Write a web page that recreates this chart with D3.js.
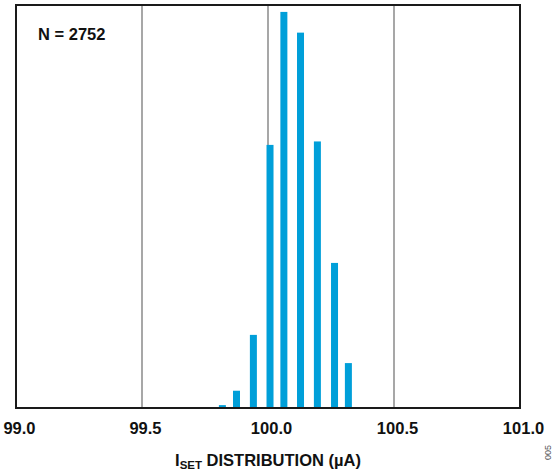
<!DOCTYPE html>
<html>
<head>
<meta charset="utf-8">
<script src="https://cdn.jsdelivr.net/npm/d3@7"></script>
<style>
  html, body { margin: 0; padding: 0; background: #fff; }
  svg { display: block; font-family: "Liberation Sans", Arial, sans-serif; }
</style>
</head>
<body>
<svg id="chart" width="556" height="470"></svg>
<script>
// Data (bin centres in µA and counts)
const binCenters = [99.752, 99.819, 99.875, 99.942, 100.008, 100.063, 100.129, 100.196, 100.264, 100.319];
const counts     = [1, 5, 30, 127, 457, 688, 652, 463, 252, 78];
const tickValues = [99.0, 99.5, 100.0, 100.5, 101.0];
const gridValues = [99.5, 100.0, 100.5];
const nLabel = "N = 2752";

const svg = d3.select("#chart");
const margin = { left: 16, right: 36, top: 5, bottom: 62 };
const W = 556, H = 470;

const x = d3.scaleLinear().domain([99, 101]).range([margin.left, W - margin.right]);
const y = d3.scaleLinear().domain([0, 700]).range([H - margin.bottom, margin.top]);

// gridlines
svg.append("g").selectAll("line").data(gridValues).join("line")
  .attr("x1", d => x(d)).attr("x2", d => x(d))
  .attr("y1", y(700)).attr("y2", y(0))
  .attr("stroke", "#8a8a8a").attr("stroke-width", 1.5);

// bars
const barW = 7;
svg.append("g").selectAll("rect").data(binCenters).join("rect")
  .attr("x", (d) => x(d) - barW / 2)
  .attr("width", barW)
  .attr("y", (d, i) => y(counts[i]))
  .attr("height", (d, i) => y(0) - y(counts[i]))
  .attr("fill", "#009fd9");

// frame
svg.append("rect")
  .attr("x", x(99)).attr("y", y(700))
  .attr("width", x(101) - x(99)).attr("height", y(0) - y(700))
  .attr("fill", "none").attr("stroke", "#1a1a1a").attr("stroke-width", 2);

// x axis tick labels
const xAxis = d3.axisBottom(x).tickValues(tickValues).tickSize(0).tickPadding(0)
  .tickFormat(d3.format(".1f"));
const gx = svg.append("g").attr("transform", `translate(0, ${y(0)})`).call(xAxis);
gx.select(".domain").remove();
gx.selectAll("text")
  .attr("dy", null).attr("y", 26).attr("dx", 3)
  .attr("font-family", "Liberation Sans, Arial, sans-serif")
  .attr("font-size", 16.5).attr("font-weight", "bold").attr("fill", "#111");

// x axis title
const title = svg.append("text")
  .attr("x", x(100)).attr("y", 466)
  .attr("text-anchor", "middle")
  .attr("font-size", 16.5).attr("font-weight", "bold").attr("fill", "#111");
title.append("tspan").text("I");
title.append("tspan").attr("font-size", 11.5).attr("dy", 3).text("SET");
title.append("tspan").attr("dy", -3).text(" DISTRIBUTION (µA)");

// N label
svg.append("text")
  .attr("x", 38).attr("y", 40)
  .attr("font-size", 16.5).attr("font-weight", "bold").attr("fill", "#111")
  .text(nLabel);

// figure id
svg.append("text")
  .attr("transform", "translate(551, 460) rotate(-90)")
  .attr("font-size", 9).attr("fill", "#555")
  .text("005");
</script>
</body>
</html>
